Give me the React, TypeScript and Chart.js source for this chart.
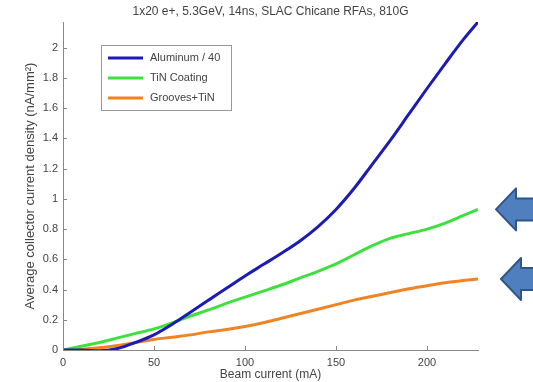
import React, { useEffect, useRef } from "react";
import { Chart, registerables } from "chart.js";

Chart.register(...registerables);

const titleText = "1x20 e+, 5.3GeV, 14ns, SLAC Chicane RFAs, 810G";
const xTitle = "Beam current (mA)";
const yTitle = "Average collector current density (nA/mm\u00B2)";

const current = [0, 10, 20, 30, 40, 50, 60, 70, 80, 90, 100, 110, 120, 130, 140, 150, 160, 170, 180, 190, 200, 210, 220, 228];
const aluminum = [0, 0, -0.005, 0.01, 0.05, 0.1, 0.17, 0.25, 0.33, 0.41, 0.49, 0.565, 0.64, 0.72, 0.815, 0.93, 1.07, 1.23, 1.39, 1.56, 1.73, 1.895, 2.055, 2.17];
const tinCoating = [0, 0.025, 0.05, 0.08, 0.11, 0.14, 0.18, 0.225, 0.265, 0.31, 0.35, 0.39, 0.43, 0.475, 0.52, 0.57, 0.63, 0.69, 0.74, 0.77, 0.8, 0.84, 0.89, 0.93];
const groovesTin = [0, 0.005, 0.015, 0.03, 0.05, 0.07, 0.085, 0.1, 0.12, 0.135, 0.155, 0.18, 0.21, 0.24, 0.27, 0.3, 0.33, 0.355, 0.38, 0.405, 0.425, 0.445, 0.46, 0.47];

const seriesLabels = ["Aluminum / 40", "TiN Coating", "Grooves+TiN"];
const seriesColors = ["#1c1cb4", "#3ee03e", "#f08424"];

const xMin = 0, xMax = 228, xStep = 50;
const yMin = 0, yMax = 2.17, yStep = 0.2;

const FONT = "'Liberation Sans', Arial, sans-serif";
const TEXT = "#444";
const AXIS = "#888";

const pts = (ys: number[]) => current.map((x, i) => ({ x, y: ys[i] }));

const decorPlugin = {
  id: "decor",
  afterDraw(chart: any) {
    const { ctx, chartArea, scales } = chart;
    const xs = scales.x, ys = scales.y;
    ctx.save();
    // title centred over the axes
    ctx.fillStyle = TEXT;
    ctx.font = `12px ${FONT}`;
    ctx.textAlign = "center";
    ctx.textBaseline = "middle";
    ctx.fillText(titleText, (chartArea.left + chartArea.right) / 2, 12);
    ctx.textAlign = "left";

    // inward ticks
    ctx.strokeStyle = AXIS;
    ctx.lineWidth = 1;
    ctx.beginPath();
    xs.ticks.forEach((t: any) => {
      const px = Math.round(xs.getPixelForValue(t.value)) + 0.5;
      ctx.moveTo(px, chartArea.bottom);
      ctx.lineTo(px, chartArea.bottom - 4);
    });
    ys.ticks.forEach((t: any) => {
      const py = Math.round(ys.getPixelForValue(t.value)) + 0.5;
      ctx.moveTo(chartArea.left, py);
      ctx.lineTo(chartArea.left + 4, py);
    });
    ctx.stroke();

    // legend box
    const lx = chartArea.left + 38, ly = chartArea.top + 23, lw = 130, lh = 65;
    ctx.fillStyle = "#fff";
    ctx.fillRect(lx, ly, lw, lh);
    ctx.strokeStyle = "#999";
    ctx.strokeRect(lx + 0.5, ly + 0.5, lw, lh);
    ctx.font = `11px ${FONT}`;
    ctx.textBaseline = "middle";
    chart.data.datasets.forEach((ds: any, i: number) => {
      const ry = ly + 13 + i * 20;
      ctx.strokeStyle = ds.borderColor;
      ctx.lineWidth = 3;
      ctx.beginPath();
      ctx.moveTo(lx + 7, ry);
      ctx.lineTo(lx + 42, ry);
      ctx.stroke();
      ctx.fillStyle = TEXT;
      ctx.fillText(ds.label, lx + 49, ry);
    });

    // arrows pointing at end of green and orange curves
    const drawArrow = (tipX: number, cy: number) => {
      const headLen = 20, headH = 21, shaftH = 11;
      ctx.beginPath();
      ctx.moveTo(tipX, cy);
      ctx.lineTo(tipX + headLen, cy - headH);
      ctx.lineTo(tipX + headLen, cy - shaftH);
      ctx.lineTo(tipX + 60, cy - shaftH);
      ctx.lineTo(tipX + 60, cy + shaftH);
      ctx.lineTo(tipX + headLen, cy + shaftH);
      ctx.lineTo(tipX + headLen, cy + headH);
      ctx.closePath();
      ctx.lineJoin = "round";
      ctx.fillStyle = "#4f7fbf";
      ctx.fill();
      ctx.strokeStyle = "#2f5589";
      ctx.lineWidth = 2;
      ctx.stroke();
    };
    const g = chart.data.datasets[1].data;
    const o = chart.data.datasets[2].data;
    drawArrow(chartArea.right + 18, ys.getPixelForValue(g[g.length - 1].y));
    drawArrow(chartArea.right + 23, ys.getPixelForValue(o[o.length - 1].y));
    ctx.restore();
  },
};

export default function App() {
  const ref = useRef<HTMLCanvasElement | null>(null);
  useEffect(() => {
    if (!ref.current) return;
    const datasets = [aluminum, tinCoating, groovesTin].map((ys, i) => ({
      label: seriesLabels[i],
      data: pts(ys),
      borderColor: seriesColors[i],
      backgroundColor: seriesColors[i],
      borderWidth: 3,
      pointRadius: 0,
      cubicInterpolationMode: "monotone" as const,
      fill: false,
    }));
    const chart = new Chart(ref.current, {
      type: "line",
      data: { datasets },
      plugins: [decorPlugin],
      options: {
        animation: false,
        responsive: false,
        layout: { padding: { left: 0, right: 55, top: 22, bottom: 0 } },
        plugins: {
          legend: { display: false },
          tooltip: { enabled: false },
          title: { display: false },
        },
        scales: {
          x: {
            type: "linear",
            min: xMin,
            max: xMax,
            grid: { display: false, drawTicks: false },
            border: { display: true, color: AXIS, width: 1 },
            ticks: {
              stepSize: xStep,
              includeBounds: false,
              padding: 6,
              color: TEXT,
              font: { family: FONT, size: 11 },
              maxRotation: 0,
              callback: (v: any) => String(v),
            },
            title: {
              display: true,
              text: xTitle,
              color: TEXT,
              font: { family: FONT, size: 12 },
              padding: { top: 0, bottom: 0 },
            },
            afterFit: (s: any) => {
              s.height = 32;
            },
          },
          y: {
            type: "linear",
            min: yMin,
            max: yMax,
            grid: { display: false, drawTicks: false },
            border: { display: true, color: AXIS, width: 1 },
            ticks: {
              stepSize: yStep,
              includeBounds: false,
              padding: 5,
              color: TEXT,
              font: { family: FONT, size: 11 },
              callback: (v: any) => String(Math.round(Number(v) * 10) / 10),
            },
            title: {
              display: true,
              text: yTitle,
              color: TEXT,
              font: { family: FONT, size: 13 },
              padding: { top: 23, bottom: 0 },
            },
            afterFit: (s: any) => {
              s.width = 63;
            },
          },
        },
      },
    });
    return () => chart.destroy();
  }, []);
  return (
    <div style={{ position: "fixed", left: 0, top: 0, width: 533, height: 382, background: "#fff" }}>
      <canvas ref={ref} width={533} height={382} />
    </div>
  );
}
